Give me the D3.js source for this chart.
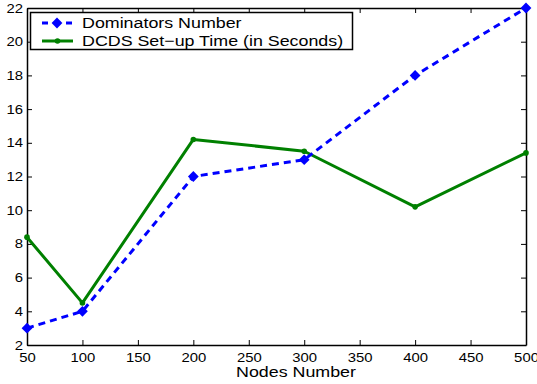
<!DOCTYPE html>
<html>
<head>
<meta charset="utf-8">
<script src="https://cdn.jsdelivr.net/npm/d3@7"></script>
<style>
  html, body { margin: 0; padding: 0; background: #fff; }
  svg { display: block; font-family: "Liberation Sans", Arial, Helvetica, sans-serif; }
</style>
</head>
<body>
<svg id="chart" width="537" height="384"></svg>
<script>
// Node counts on the x axis
const nodes = [50, 100, 200, 300, 400, 500];
// Number of dominators selected for each network size
const dominators = [3, 4, 12, 13, 18, 22];
// DCDS set-up time in seconds
const setupTime = [8.4, 4.5, 14.2, 13.5, 10.2, 13.4];
// Axis ticks
const xTicks = [50, 100, 150, 200, 250, 300, 350, 400, 450, 500];
const yTicks = [2, 4, 6, 8, 10, 12, 14, 16, 18, 20, 22];
const seriesNames = ["Dominators Number", "DCDS Set\u2212up Time (in Seconds)"];

const svg = d3.select("#chart");
const m = { left: 27, right: 526, top: 8, bottom: 345 };
const stretch = 1.19; // horizontal widening of all lettering

const x = d3.scaleLinear().domain([50, 500]).range([m.left, m.right]);
const y = d3.scaleLinear().domain([2, 22]).range([m.bottom, m.top]);

// Axes with inward ticks, mirrored on top and right to close the frame
const tickLen = 5;
const axisStyle = g => {
  g.selectAll("path").attr("stroke", "#000").attr("stroke-width", 1.5);
  g.selectAll("line").attr("stroke", "#000").attr("stroke-width", 1);
  g.selectAll("text").attr("fill", "#000").attr("font-size", 12.5)
    .each(function () {
      const t = d3.select(this);
      const tx = +t.attr("x") || 0;
      t.attr("x", tx / stretch).attr("transform", `scale(${stretch},1)`);
    });
};

svg.append("g")
  .attr("transform", `translate(0,${m.bottom})`)
  .call(d3.axisBottom(x).tickValues(xTicks).tickSizeInner(-tickLen).tickSizeOuter(0).tickPadding(8))
  .call(axisStyle);

svg.append("g")
  .attr("transform", `translate(0,${m.top})`)
  .call(d3.axisTop(x).tickValues(xTicks).tickSizeInner(-tickLen).tickSizeOuter(0).tickFormat(""))
  .call(axisStyle);

svg.append("g")
  .attr("transform", `translate(${m.left},0)`)
  .call(d3.axisLeft(y).tickValues(yTicks).tickSizeInner(-tickLen).tickSizeOuter(0).tickPadding(4))
  .call(axisStyle);

svg.append("g")
  .attr("transform", `translate(${m.right},0)`)
  .call(d3.axisRight(y).tickValues(yTicks).tickSizeInner(-tickLen).tickSizeOuter(0).tickFormat(""))
  .call(axisStyle);

// x-axis title
svg.append("text")
  .attr("transform", `translate(296,377) scale(${stretch},1)`)
  .attr("text-anchor", "middle")
  .attr("font-size", 15)
  .text("Nodes Number");

const line = d3.line().x(d => x(d[0])).y(d => y(d[1]));

// Set-up time series: solid green with small dots
const timePts = nodes.map((n, i) => [n, setupTime[i]]);
svg.append("path")
  .datum(timePts)
  .attr("d", line)
  .attr("fill", "none")
  .attr("stroke", "#008000")
  .attr("stroke-width", 3)
  .attr("stroke-linejoin", "round");
svg.selectAll(".tdot").data(timePts).enter().append("circle")
  .attr("cx", d => x(d[0])).attr("cy", d => y(d[1]))
  .attr("r", 2.8).attr("fill", "#008000");

// Dominator series: dashed blue with diamond markers
const domPts = nodes.map((n, i) => [n, dominators[i]]);
svg.append("path")
  .datum(domPts)
  .attr("d", line)
  .attr("fill", "none")
  .attr("stroke", "#0000ff")
  .attr("stroke-width", 3)
  .attr("stroke-dasharray", "7,5");
const diamond = d3.symbol().type(d3.symbolSquare).size(58);
svg.selectAll(".ddot").data(domPts).enter().append("path")
  .attr("d", diamond)
  .attr("transform", d => `translate(${x(d[0])},${y(d[1])}) rotate(45)`)
  .attr("fill", "#0000ff");

// Legend
const lg = svg.append("g");
lg.append("rect")
  .attr("x", 30.5).attr("y", 12.5).attr("width", 322).attr("height", 37)
  .attr("fill", "#fff").attr("stroke", "#000").attr("stroke-width", 1.5);

lg.append("line")
  .attr("x1", 42).attr("x2", 73).attr("y1", 23).attr("y2", 23)
  .attr("stroke", "#0000ff").attr("stroke-width", 3).attr("stroke-dasharray", "6,6");
lg.append("path").attr("d", diamond).attr("transform", "translate(57,23) rotate(45)").attr("fill", "#0000ff");
lg.append("line")
  .attr("x1", 42).attr("x2", 73).attr("y1", 41).attr("y2", 41)
  .attr("stroke", "#008000").attr("stroke-width", 3);
lg.append("circle").attr("cx", 57.5).attr("cy", 41).attr("r", 2.8).attr("fill", "#008000");

lg.selectAll(".lt").data(seriesNames).enter().append("text")
  .attr("transform", (d, i) => `translate(82,${23 + i * 18}) scale(${stretch},1)`)
  .attr("dy", "0.36em")
  .attr("font-size", 15)
  .text(d => d);
</script>
</body>
</html>
